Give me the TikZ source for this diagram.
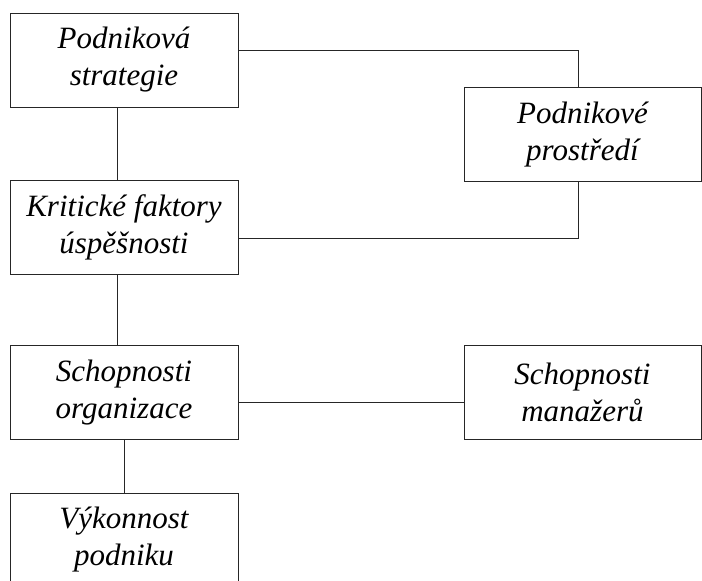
\documentclass[tikz,border=0pt]{standalone}
\usepackage{fontspec}
\setmainfont{Liberation Serif}
\begin{document}
\begin{tikzpicture}[x=1pt,y=1pt,
  box/.style={draw=black!85, line width=1pt, fill=white, inner sep=0pt,
    minimum height=94pt, align=center,
    font=\fontsize{31}{37}\selectfont\itshape},
  leftbox/.style={box, minimum width=228pt},
  rightbox/.style={box, minimum width=237pt},
  link/.style={draw=black!85, line width=1pt}]
\useasboundingbox (0,0) rectangle (702,-581);
\clip (0,0) rectangle (702,-581);

% boxes
\node[leftbox]  (strat) at (124,-60)      {Podniková\\strategie};
\node[rightbox] (env)   at (582.5,-134.5) {Podnikové\\prostředí};
\node[leftbox]  (csf)   at (124,-227)     {Kritické faktory\\úspěšnosti};
\node[leftbox]  (org)   at (124,-392.5)   {Schopnosti\\organizace};
\node[rightbox] (mgr)   at (582.5,-392)   {Schopnosti\\manažerů};
\node[leftbox]  (perf)  at (124,-540)     {Výkonnost\\podniku};

% connectors
\draw[link] ([xshift=-7pt]strat.south) -- ([xshift=-7pt]csf.north);
\draw[link] ([yshift=10pt]strat.east) -| ([xshift=-4.5pt]env.north);
\draw[link] ([yshift=-11pt]csf.east) -| ([xshift=-4.5pt]env.south);
\draw[link] ([xshift=-7pt]csf.south) -- ([xshift=-7pt]org.north);
\draw[link] ([yshift=-10pt]org.east) -- ([yshift=-10.5pt]mgr.west);
\draw[link] (org.south) -- (perf.north);
\end{tikzpicture}
\end{document}
